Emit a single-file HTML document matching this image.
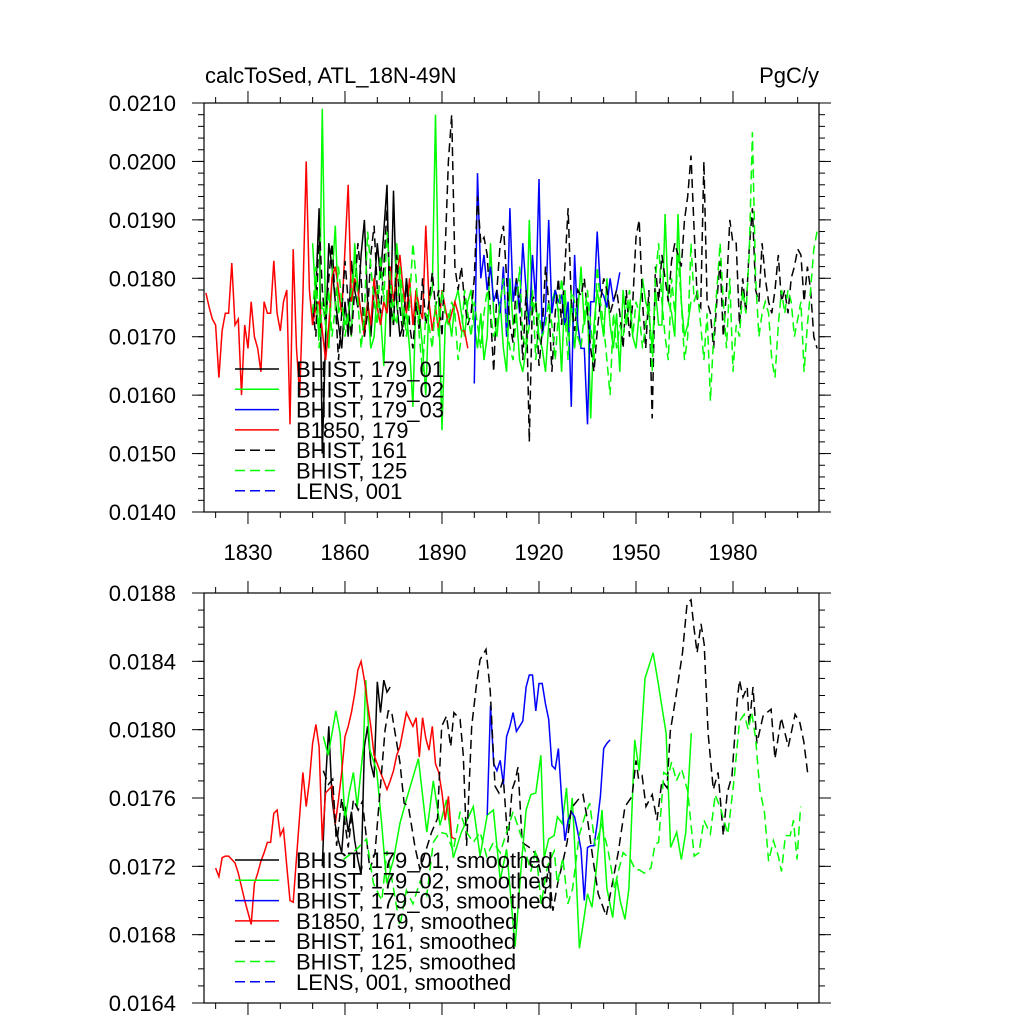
<!DOCTYPE html>
<html><head><meta charset="utf-8"><title>calcToSed ATL_18N-49N</title>
<style>
html,body{margin:0;padding:0;background:#fff;}
svg{display:block;font-family:"Liberation Sans",sans-serif;}
</style></head>
<body>
<svg id="chart" width="1024" height="1024" viewBox="0 0 1024 1024" xmlns="http://www.w3.org/2000/svg">
<defs>
<clipPath id="clipTop"><rect x="204" y="103" width="615" height="409"/></clipPath>
<clipPath id="clipBot"><rect x="204" y="593" width="615" height="410"/></clipPath>
</defs>
<text x="205" y="83" font-size="22">calcToSed, ATL_18N-49N</text>
<text x="819" y="83" font-size="22" text-anchor="end">PgC/y</text>
<g id="topPanel"></g>
<g id="botPanel"></g>
</svg>
<script>
// ===== Top panel data (values in units of 1e-4 PgC/y) =====
const redStart = 1817;
const redVals = [177.5,175,173,172,163,171,174,174,182.6,172,173,160,172,168,176,170,168,164,176,174,174,183,174,171,176,178,155,185,168,160,177,200,178,172,175,176,171,166,172,180,182,178,174,185,196,176,180,178,174,170,176,172,180,175,172,176,174,182,176,180,184,178,174,180,172,178,175,173,189,176,171,175,171,178,175,172,174,176,174,171,171,168];
const blk1Start = 1850;
const blk1Vals = [172,178,192,150,170,186,182,176,172,168,176,170,183,178,175,184,190,176,170,178,186,180,188,196,170,195,176,170,172,180,175];
const grn2Start = 1850;
const grn2Vals = [186,176,170,209,172,168,180,189,174,176,172,174,170,186,178,174,172,176,168,170,178,174,165,178,176,172,186,180,172,174,168,158,178,174,168,160,176,178,208,176,154,172,174,170,176,178,174,170,176,178,172,168,174,166,170,186,174,170,176,168,164,180,172,174,166,164,168,190,174,176,170,168,164,172,176,178,174,164,178,170,176,168,174,182,172,176,156,172,178,174,170,180,172,168,174,164,178,172,176,170,168,174,180,176,174,168,178,172,172,191,176,174,170,191,176,170,172,176];
const blu3Start = 1900;
const blu3Vals = [162,198,180,184,178,182,176,178,174,182,170,192,176,180,174,186,178,172,184,176,197,170,174,190,174,178,176,177,172,176,158,184,172,168,168,155,176,176,188,178,177,175,180,176,178,181];
const b161Start = 1850;
const b161Vals = [175,170,190,178,172,180,186,176,166,174,183,176,170,178,186,180,170,174,184,189,178,174,182,192,176,172,184,175,170,180,172,168,176,171,180,172,176,181,175,178,170,185,200,208,182,178,182,176,172,174,180,194,186,187,184,174,164,178,186,189,180,172,169,180,176,166,178,152,177,176,165,171,182,176,164,174,180,172,182,192,176,171,178,177,180,174,168,164,171,176,180,178,174,176,178,174,168,178,170,176,187,190,176,168,178,156,182,176,184,180,176,183,186,184,182,190,194,201,188,176,175,200,176,174,168,176,183,170,178,190,186,186,172,180,174,185,192,178,176,186,180,176,174,178,184,176,178,174,180,182,185,184,176,182,178,170,168];
const g125Start = 1850;
const g125Vals = [174,182,168,176,172,178,170,175,182,176,170,174,178,184,176,168,174,188,182,176,172,184,176,188,180,174,172,182,176,170,176,186,180,170,164,174,172,168,176,170,178,174,172,176,174,166,170,178,174,170,176,172,168,174,178,174,170,172,176,180,172,168,166,174,182,170,168,172,178,166,174,170,172,176,172,166,174,180,174,166,178,176,170,168,174,178,172,166,182,176,172,166,160,174,168,172,170,174,178,170,176,174,168,172,176,164,180,186,176,170,166,180,174,184,176,166,170,186,176,178,172,166,174,159,170,178,186,176,168,180,164,172,170,178,174,184,205,180,170,174,176,174,166,163,172,178,174,178,176,170,173,176,164,172,178,185,188];

// ===== Bottom panel data (smoothed, units of 1e-4 PgC/y) =====
const redSmStart = 1820;
const redSmVals = [171.9,171.4,172.5,172.6,172.6,172.4,172.2,171.6,170.8,170.0,169.3,168.6,171.0,171.6,172.3,172.8,173.4,173.4,175.1,175.3,173.8,174.2,172,170.0,169.9,172.5,175,177.5,175.5,177,179.2,180.3,179.0,173.5,176.3,176.5,176.7,174.5,175.9,177.5,179.6,180.2,181.0,182.1,183.5,184,182.9,181.5,180.2,178.5,178,177.5,177,176.5,177,177.6,178.5,179.0,180,181.0,180.6,180.2,180.7,178.4,180.7,179.5,178.8,180.2,178,177.5,176.3,174.7,176.1,173.7,173.6];
const blk1SmStart = 1853;
const blk1SmVals = [172,177,180.2,176.0,174.4,173.5,172.8,175.5,174,175.2,173.5,172.4,171.5,179,180.2,178,177.2,182.8,181,182.9,182.2,182.5];
const grn2SmYears = [1853.3,1854.8,1857.2,1858.5,1860,1861.3,1862.6,1863.8,1865.7,1866.4,1867.7,1869.8,1871.4,1872.9,1875,1877,1879,1882.7,1885.3,1887.3,1889.4,1891.4,1893.5,1896,1899.7,1901.8,1904,1905.9,1908,1910,1912.6,1914.6,1916,1917.5,1919,1920.6,1921.6,1923,1924.7,1925.7,1927.2,1928.5,1929.3,1930.3,1931.3,1932.5,1933.8,1935,1936.4,1937.6,1939.5,1941,1942.8,1944,1945.2,1946.6,1947.8,1949.6,1951,1952.8,1955.3,1956.8,1957.8,1959.3,1960.7,1962.6,1964,1965.4,1967.1];
const grn2SmVals = [179.6,178.5,181.1,179.8,174.7,176.3,177.5,175.5,179,182.9,178.8,177.6,174.4,171,172.4,174.5,175.9,178.3,174,177,174.4,175.9,172.5,174,175.5,172.6,175,175.3,171.2,173,167.3,172.2,175.3,176.2,176.3,178.5,172.5,173.6,173.8,174.9,174.5,176.6,174.2,176,172.3,167.2,168.8,170.4,169.6,171.6,175.3,170.7,169,171.3,169.9,168.9,170.7,179.4,177.6,183,184.5,182.8,181.6,179.8,173.1,174,172.4,174,179.8];
const blu3SmStart = 1904;
const blu3SmVals = [175,181.4,178,177.6,178.2,176.8,179.6,180.2,181,179.9,180.2,180.5,182.5,183.2,183.2,181.1,182.7,182.7,181.5,180.6,177.9,177.7,178.9,176,173.5,174.7,175.2,174.9,174,173,170,173.1,173.2,173.2,174.5,176.1,178.9,179.2,179.4];
const b161SmYears = [1853.3,1854.9,1856.2,1857.4,1859,1861,1862.6,1864.1,1865.4,1867.7,1869.3,1870.8,1872.4,1873.4,1874.4,1875.5,1877,1878.3,1879.6,1881.7,1883.2,1885.3,1886.8,1888.6,1889.9,1891.4,1892.7,1893.7,1895.6,1896.6,1897.6,1899.2,1900.7,1901.8,1903.6,1904.9,1906.4,1907.6,1909,1910.4,1911.7,1912.6,1913.5,1914.8,1916.3,1917.8,1919.4,1921.9,1922.9,1924.3,1925.8,1927.3,1928.7,1930,1932.1,1933.6,1935.2,1936.7,1938.3,1940.8,1942.5,1944.5,1946.6,1948.8,1950,1950.8,1951.9,1953.1,1955,1956.5,1958,1959.6,1960.6,1962.3,1964.4,1965.8,1967,1967.9,1968.9,1970.1,1971.1,1972.3,1973.9,1975.4,1977,1978.2,1979.7,1981.3,1982,1983.1,1984.4,1985,1986.2,1987.4,1989.3,1990.5,1991.8,1993,1994.9,1997.1,1999.2,2000.7,2001.9,2003.2];
const b161SmVals = [177.6,176.8,177.1,173.2,176,173.1,175.9,175.3,175.8,171.8,172.8,176.3,180,181.1,181.1,179.8,178.1,175.7,175.5,173.1,171.8,173.1,174,174.8,180.2,180.8,179,181,180.6,178.5,173.2,180.2,182.7,184.1,184.7,182.3,176.7,176.3,177.1,173.4,176.5,177,177.8,173.4,173.2,173,172.6,170.4,172,169.4,171,172.2,173.4,175.4,175.9,176.2,174.5,172.4,170.4,169.1,170.8,172.8,175.5,176.1,178.2,177.1,177.3,175.5,176.2,174.7,177,176.6,179.9,181.9,184.5,187.4,187.6,186,184.5,186.2,185,179.8,176.5,177.5,173.8,176.3,177.3,181.7,182.9,181.9,182.5,180.2,182.5,179.2,180.8,181,181.2,178.3,180.7,179,180.9,180.4,179.3,177.3];
const g125SmYears = [1859.5,1863.6,1866.7,1868.8,1871.4,1873,1875,1877,1879,1881,1883.2,1885.3,1887.3,1889.4,1891.4,1893.5,1895.6,1897.6,1899.7,1901.8,1903.8,1905.9,1908,1910,1912,1914.6,1917.5,1919,1920.7,1922.6,1924.7,1925.7,1927.4,1928.9,1930.4,1932.4,1934.3,1935.7,1937.4,1939.4,1941.3,1943.4,1944.4,1946,1948.3,1949.8,1951,1952.6,1954.6,1955.9,1957,1958.6,1960,1961,1962.5,1964.1,1966,1968,1969.5,1971,1973,1974.5,1976.3,1978.4,1980.4,1982,1983.5,1984.7,1985.8,1987,1988.3,1989.7,1991,1992.5,1994,1995,1996.2,1997.7,1998.7,1999.8,2000.9];
const g125SmVals = [172.4,173,173.6,171,170,172.9,170.7,168.5,170.6,169.8,171.1,170.3,173.4,174,173.9,172.9,175.2,174,173.4,174,172.6,173.4,172.8,174,175.2,173.7,171.7,173,169.8,172,172.9,171,172.5,169.8,170.7,173.8,175,175.7,173.2,174.4,173,170.7,171.6,172.8,172.4,171.8,171.8,171.6,171.9,173.3,173.4,177.5,177.3,178.1,177,177.7,176.4,172.6,172.8,174.7,173.9,176.2,175.3,173.9,177.2,180.5,180.9,180,181,179.5,176.5,175.2,172.3,173.5,172.6,171.7,173.8,173.8,174.7,172.4,175.5];

// ===== Axis definitions =====
const NS = "http://www.w3.org/2000/svg";
const X0 = 204, X1 = 819, YR0 = 1816.4, YR1 = 2006.6;
function xs(yr){ return X0 + (yr - YR0) * (X1 - X0) / (YR1 - YR0); }
const topMin = 140, topMax = 210, topY0 = 103, topY1 = 512;
const botMin = 164, botMax = 188, botY0 = 593, botY1 = 1003;
function ysTop(v){ return topY0 + (topMax - v) * (topY1 - topY0) / (topMax - topMin); }
function ysBot(v){ return botY0 + (botMax - v) * (botY1 - botY0) / (botMax - botMin); }
const topTickVals = [210,200,190,180,170,160,150,140];
const topTickLabels = ["0.0210","0.0200","0.0190","0.0180","0.0170","0.0160","0.0150","0.0140"];
const botTickVals = [188,184,180,176,172,168,164];
const botTickLabels = ["0.0188","0.0184","0.0180","0.0176","0.0172","0.0168","0.0164"];
const xTickYears = [1830,1860,1890,1920,1950,1980];
const xTickLabels = ["1830","1860","1890","1920","1950","1980"];

function mk(tag, attrs, parent){
  const e = document.createElementNS(NS, tag);
  for (const k in attrs) e.setAttribute(k, attrs[k]);
  parent.appendChild(e);
  return e;
}

function drawFrame(g, yTop, yBot, ys, tickVals, tickLabels, minorStep, vmin, vmax, showXLabels, prefix){
  for (let yr = 1820; yr <= 2000; yr += 10){
    const x = xs(yr);
    const major = (yr - 1830) % 30 === 0;
    const len = major ? 12 : 6;
    const t1 = mk('line', {x1:x, y1:yBot, x2:x, y2:yBot+len, stroke:'#000', 'stroke-width':1}, g);
    
    
    const t2 = mk('line', {x1:x, y1:yTop, x2:x, y2:yTop-len, stroke:'#000', 'stroke-width':1}, g);
    
    
  }
  for (let v = vmin; v <= vmax + 1e-9; v += minorStep){
    const y = ys(v);
    const l1 = mk('line', {x1:X0, y1:y, x2:X0-6, y2:y, stroke:'#000', 'stroke-width':1}, g);
    
    
    const l2 = mk('line', {x1:X1, y1:y, x2:X1+6, y2:y, stroke:'#000', 'stroke-width':1}, g);
    
    
  }
  tickVals.forEach((v, i) => {
    const y = ys(v);
    const a = mk('line', {x1:X0, y1:y, x2:X0-12, y2:y, stroke:'#000', 'stroke-width':1}, g);
    
    
    const b = mk('line', {x1:X1, y1:y, x2:X1+12, y2:y, stroke:'#000', 'stroke-width':1}, g);
    
    
    const t = mk('text', {x:176, y:y+8, 'font-size':22, 'text-anchor':'end'}, g);
    t.textContent = tickLabels[i];
    
    
  });
  if (showXLabels){
    xTickYears.forEach((yr, i) => {
      const t = mk('text', {x:xs(yr), y:yBot+48, 'font-size':22, 'text-anchor':'middle'}, g);
      t.textContent = xTickLabels[i];
      
      
    });
  }
  const fr = mk('rect', {x:X0, y:yTop, width:X1-X0, height:yBot-yTop, fill:'none', stroke:'#000', 'stroke-width':1.2}, g);
  
  
}

function seriesAnnual(g, start, vals, ys, color, dash, name, clip){
  const pts = vals.map((v, i) => xs(start + i).toFixed(1) + ',' + ys(v).toFixed(1)).join(' ');
  const p = mk('polyline', {points:pts, fill:'none', stroke:color, 'stroke-width':1.5, 'clip-path':'url(#' + clip + ')'}, g);
  if (dash) p.setAttribute('stroke-dasharray', '9 5');
  
  
}
function seriesXY(g, years, vals, ys, color, dash, name, clip){
  const pts = vals.map((v, i) => xs(years[i]).toFixed(1) + ',' + ys(v).toFixed(1)).join(' ');
  const p = mk('polyline', {points:pts, fill:'none', stroke:color, 'stroke-width':1.5, 'clip-path':'url(#' + clip + ')'}, g);
  if (dash) p.setAttribute('stroke-dasharray', '9 5');
  
  
}

const legendColors = ['#000','#00ff00','#0000ff','#ff0000','#000','#00ff00','#0000ff'];
const legendDash = [false,false,false,false,true,true,true];
const topLegendLabels = ["BHIST, 179_01","BHIST, 179_02","BHIST, 179_03","B1850, 179","BHIST, 161","BHIST, 125","LENS, 001"];
const botLegendLabels = ["BHIST, 179_01, smoothed","BHIST, 179_02, smoothed","BHIST, 179_03, smoothed","B1850, 179, smoothed","BHIST, 161, smoothed","BHIST, 125, smoothed","LENS, 001, smoothed"];

function legend(g, y0, labels, prefix){
  labels.forEach((lab, i) => {
    const y = y0 + i * 20.3;
    const l = mk('line', {x1:235, y1:y, x2:279, y2:y, stroke:legendColors[i], 'stroke-width':1.5}, g);
    if (legendDash[i]) l.setAttribute('stroke-dasharray', '10 5');
    
    
    const t = mk('text', {x:296, y:y+8, 'font-size':22}, g);
    t.textContent = lab;
    
    
  });
}

const gt = document.getElementById('topPanel');
seriesAnnual(gt, blk1Start, blk1Vals, ysTop, '#000', false, 'series-bhist-179-01', 'clipTop');
seriesAnnual(gt, grn2Start, grn2Vals, ysTop, '#00ff00', false, 'series-bhist-179-02', 'clipTop');
seriesAnnual(gt, blu3Start, blu3Vals, ysTop, '#0000ff', false, 'series-bhist-179-03', 'clipTop');
seriesAnnual(gt, redStart, redVals, ysTop, '#ff0000', false, 'series-b1850-179', 'clipTop');
seriesAnnual(gt, b161Start, b161Vals, ysTop, '#000', true, 'series-bhist-161', 'clipTop');
seriesAnnual(gt, g125Start, g125Vals, ysTop, '#00ff00', true, 'series-bhist-125', 'clipTop');
drawFrame(gt, topY0, topY1, ysTop, topTickVals, topTickLabels, 2, topMin, topMax, true, 'top');
legend(gt, 369, topLegendLabels, 'top');

const gb = document.getElementById('botPanel');
seriesAnnual(gb, blk1SmStart, blk1SmVals, ysBot, '#000', false, 'series-bhist-179-01-smoothed', 'clipBot');
seriesXY(gb, grn2SmYears, grn2SmVals, ysBot, '#00ff00', false, 'series-bhist-179-02-smoothed', 'clipBot');
seriesAnnual(gb, blu3SmStart, blu3SmVals, ysBot, '#0000ff', false, 'series-bhist-179-03-smoothed', 'clipBot');
seriesAnnual(gb, redSmStart, redSmVals, ysBot, '#ff0000', false, 'series-b1850-179-smoothed', 'clipBot');
seriesXY(gb, b161SmYears, b161SmVals, ysBot, '#000', true, 'series-bhist-161-smoothed', 'clipBot');
seriesXY(gb, g125SmYears, g125SmVals, ysBot, '#00ff00', true, 'series-bhist-125-smoothed', 'clipBot');
drawFrame(gb, botY0, botY1, ysBot, botTickVals, botTickLabels, 1, botMin, botMax, false, 'bottom');
legend(gb, 860, botLegendLabels, 'bottom');
</script>
</body></html>
